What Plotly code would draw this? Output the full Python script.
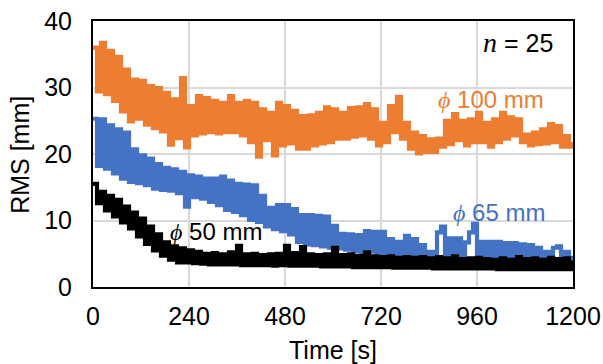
import plotly.graph_objects as go

# Time axis (s), sampled every 10 s
time_s = list(range(0, 1201, 10))

# RMS [mm] values
rms_100 = [36.0, 29.4, 36.7, 29.0, 35.5, 28.0, 34.6, 26.4, 32.7, 24.9,
           31.2, 25.3, 31.0, 24.4, 30.2, 23.9, 29.9, 23.4, 29.2, 21.4,
           28.2, 22.4, 31.4, 21.0, 27.2, 22.8, 28.7, 23.1, 28.4, 23.3,
           28.0, 23.1, 27.7, 23.3, 28.7, 23.3, 27.7, 22.8, 28.0, 21.8,
           27.7, 19.6, 26.7, 22.1, 26.2, 19.8, 27.7, 21.3, 27.2, 21.6,
           26.5, 20.8, 25.7, 20.8, 25.8, 21.3, 26.2, 21.6, 27.0, 21.8,
           26.7, 22.3, 26.2, 22.3, 26.9, 22.6, 27.0, 22.8, 27.5, 22.3,
           26.7, 21.3, 24.7, 21.8, 27.2, 23.3, 28.6, 22.3, 24.7, 20.8,
           23.2, 20.1, 22.7, 20.3, 22.2, 20.3, 22.3, 21.1, 25.0, 21.5,
           26.0, 22.1, 25.0, 21.3, 25.2, 21.8, 26.2, 21.8, 24.7, 21.1,
           25.2, 21.8, 26.2, 22.3, 25.5, 22.8, 25.2, 21.8, 22.9, 21.3,
           23.2, 21.5, 23.7, 21.6, 24.5, 21.8, 24.2, 21.1, 22.7, 21.1,
           21.8]

rms_65 = [25.3, 18.2, 25.2, 17.8, 24.3, 17.1, 23.7, 16.3, 23.2, 15.8,
          20.7, 15.6, 19.8, 15.3, 19.3, 14.8, 18.5, 14.6, 17.9, 14.5,
          17.7, 14.1, 17.3, 12.1, 16.8, 13.5, 16.6, 13.3, 16.3, 12.8,
          16.3, 12.3, 16.6, 11.6, 16.0, 11.3, 15.5, 10.8, 15.4, 10.1,
          15.3, 9.8, 13.7, 9.1, 11.9, 8.7, 12.3, 8.4, 12.3, 7.9,
          11.7, 6.8, 10.8, 6.4, 10.8, 6.3, 10.7, 6.1, 10.6, 5.9,
          9.2, 5.8, 8.0, 5.6, 7.9, 5.4, 7.8, 5.3, 8.4, 5.3,
          8.3, 5.1, 8.3, 5.0, 7.2, 4.9, 6.8, 4.8, 7.7, 4.8,
          7.2, 4.6, 6.3, 4.4, 5.3, 4.4, 8.2, 9.1, 4.4, 7.3,
          4.4, 7.3, 4.3, 6.7, 8.2, 9.5, 4.3, 6.8, 4.3, 6.8,
          4.3, 6.8, 4.3, 6.6, 4.3, 6.6, 4.2, 6.4, 4.2, 6.3,
          4.2, 5.9, 4.1, 5.3, 4.1, 5.9, 6.1, 4.1, 5.3, 4.1,
          4.7]

rms_50 = [15.5, 12.6, 14.3, 11.5, 13.7, 10.6, 13.1, 9.7, 12.1, 8.8,
          11.2, 7.6, 10.3, 6.5, 9.1, 5.5, 7.9, 4.7, 6.7, 4.1,
          6.1, 3.7, 5.8, 3.7, 5.5, 3.6, 5.3, 3.5, 5.0, 3.4,
          5.1, 3.4, 4.9, 3.4, 5.2, 3.4, 6.2, 3.3, 4.9, 3.3,
          5.0, 3.3, 4.8, 3.3, 4.9, 3.2, 5.0, 3.3, 6.2, 3.2,
          5.1, 3.2, 6.0, 3.2, 4.9, 3.2, 4.8, 3.1, 4.9, 3.1,
          5.9, 3.1, 4.8, 3.1, 4.9, 3.0, 4.7, 3.0, 5.2, 3.0,
          4.6, 3.0, 4.5, 3.0, 4.6, 2.9, 4.4, 2.9, 4.5, 2.9,
          4.4, 2.9, 4.5, 2.9, 4.3, 2.8, 4.5, 2.8, 4.3, 2.8,
          4.6, 2.8, 4.2, 2.8, 4.3, 2.8, 4.4, 2.8, 4.2, 2.8,
          4.1, 2.7, 4.3, 2.7, 4.1, 2.7, 4.5, 2.7, 4.2, 2.7,
          4.3, 2.7, 4.1, 2.7, 4.4, 2.7, 4.2, 2.7, 4.3, 2.7,
          4.0]

x_ticks = [0, 240, 480, 720, 960, 1200]
y_ticks = [0, 10, 20, 30, 40]

ORANGE = "#ED7D31"
BLUE = "#4472C4"
BLACK = "#000000"
FONT = "Liberation Sans, Arial, sans-serif"
PHI = "<span style='font-family:Liberation Serif'><i>ϕ</i></span>"

fig = go.Figure()
for vals, col in [(rms_100, ORANGE), (rms_65, BLUE), (rms_50, BLACK)]:
    fig.add_trace(go.Scatter(x=time_s, y=vals, mode="lines",
                             line=dict(color=col, width=4.2, shape="hv"),
                             showlegend=False, hoverinfo="skip"))

fig.update_layout(
    width=603, height=364, autosize=False,
    margin=dict(l=93, r=30, t=21, b=77, autoexpand=False),
    paper_bgcolor="white", plot_bgcolor="white",
    font=dict(family=FONT, size=25, color="black"),
    showlegend=False,
)
fig.update_xaxes(range=[0, 1200], tickvals=x_ticks, ticktext=[str(v) for v in x_ticks],
                 showgrid=True, gridcolor="#d9d9d9", gridwidth=1.5, zeroline=False,
                 showline=True, linecolor="black", linewidth=2, mirror=True,
                 automargin=False,
                 ticks="", ticklabelstandoff=6, tickfont=dict(size=25))
fig.update_yaxes(range=[0, 40], tickvals=y_ticks, ticktext=[str(v) for v in y_ticks],
                 showgrid=True, gridcolor="#d9d9d9", gridwidth=1.5, zeroline=False,
                 showline=True, linecolor="black", linewidth=2, mirror=True,
                 automargin=False,
                 ticks="", ticklabelstandoff=14, tickfont=dict(size=25))

annos = [
    dict(x=1062, y=36.7, text="<span style='font-family:Liberation Serif;font-size:28px'><i>n</i></span> = 25",
         font=dict(size=25, color="black")),
    dict(x=996, y=28.2, text=PHI + " 100 mm", font=dict(size=24, color=ORANGE)),
    dict(x=1015, y=11.25, text=PHI + " 65 mm", font=dict(size=24, color=BLUE)),
    dict(x=307, y=8.3, text=PHI + " 50 mm", font=dict(size=24, color=BLACK)),
]
for a in annos:
    fig.add_annotation(xref="x", yref="y", showarrow=False,
                       xanchor="center", yanchor="middle", **a)

fig.add_annotation(xref="paper", yref="paper", x=0.501, y=-0.236, text="Time [s]",
                   xanchor="center", yanchor="middle",
                   showarrow=False, font=dict(size=25, color="black"))
fig.add_annotation(xref="paper", yref="paper", x=-0.152, y=0.497, text="RMS [mm]",
                   xanchor="center", yanchor="middle",
                   textangle=-90, showarrow=False, font=dict(size=25, color="black"))

fig.write_html(
    "out.html",
    config={"displayModeBar": False},
    post_script="document.body.style.margin='0';document.body.style.padding='0';",
)
